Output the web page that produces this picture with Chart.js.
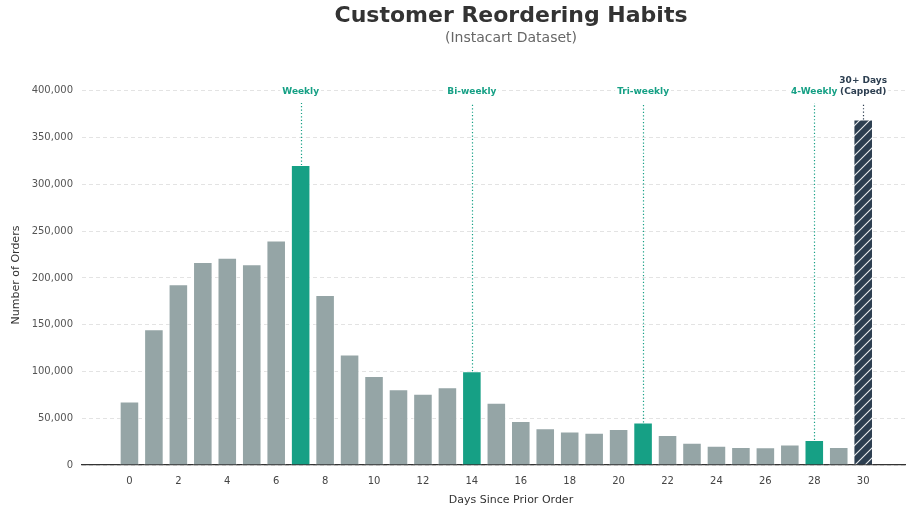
<!DOCTYPE html>
<html>
<head>
<meta charset="utf-8">
<script src="https://cdn.jsdelivr.net/npm/chart.js@4.4.1/dist/chart.umd.min.js"></script>
<style>
  html, body { margin: 0; padding: 0; background: #fff; overflow: hidden; }
  #wrap { width: 940px; height: 508px; position: relative; }
</style>
</head>
<body>
<div id="wrap"><canvas id="c" width="940" height="508"></canvas></div>
<script>
// ---- data ----
const days = [0,1,2,3,4,5,6,7,8,9,10,11,12,13,14,15,16,17,18,19,20,21,22,23,24,25,26,27,28,29,30];
const orders = [67755,145247,193206,217005,221696,214503,240013,320608,181717,118188,95186,80970,76146,83214,100230,66579,46941,39245,35881,34384,38527,45470,32012,23885,20712,19234,19016,22013,26777,19191,369323];
const milestoneDays = [7, 14, 21, 28];
const milestoneLabels = ["Weekly", "Bi-weekly", "Tri-weekly", "4-Weekly"];
const cappedDay = 30;
const cappedLabel = ["30+ Days", "(Capped)"];
const xTickValues = [0,2,4,6,8,10,12,14,16,18,20,22,24,26,28,30];
const yTickValues = [0,50000,100000,150000,200000,250000,300000,350000,400000];
const labelLevel = 400000;
const lineTopLevel = 387000;
const yMax = 406255;
const titleText = "Customer Reordering Habits";
const subtitleText = "(Instacart Dataset)";
const xTitle = "Days Since Prior Order";
const yTitle = "Number of Orders";

const GREY = "#95a5a6", TEAL = "#16a085", DARK = "#2c3e50";

function makeHatch() {
  const c = document.createElement("canvas");
  c.width = 10; c.height = 10;
  const g = c.getContext("2d");
  g.fillStyle = DARK; g.fillRect(0, 0, 10, 10);
  g.strokeStyle = "rgba(255,255,255,0.9)"; g.lineWidth = 1.1;
  g.beginPath();
  g.moveTo(0, 10); g.lineTo(10, 0);
  g.moveTo(-5, 5); g.lineTo(5, -5);
  g.moveTo(5, 15); g.lineTo(15, 5);
  g.stroke();
  return g.createPattern(c, "repeat");
}
const hatch = makeHatch();

const colors = days.map(d => d === cappedDay ? hatch : (milestoneDays.includes(d) ? TEAL : GREY));

Chart.defaults.font.family = "'DejaVu Sans', sans-serif";

const annotPlugin = {
  id: "annot",
  afterDatasetsDraw(chart) {
    const ctx = chart.ctx, xs = chart.scales.x, ys = chart.scales.y;
    ctx.save();
    const drawLine = (d, color) => {
      const x = Math.round(xs.getPixelForValue(d)) + 0.5;
      const yTop = ys.getPixelForValue(lineTopLevel);
      const yBar = ys.getPixelForValue(orders[days.indexOf(d)]);
      ctx.strokeStyle = color; ctx.lineWidth = 1.2; ctx.setLineDash([1.2, 2.2]);
      ctx.beginPath(); ctx.moveTo(x, yBar); ctx.lineTo(x, yTop); ctx.stroke();
      ctx.setLineDash([]);
    };
    const drawLabel = (text, d, level, color, dy) => {
      const x = xs.getPixelForValue(d);
      const y = ys.getPixelForValue(level) + dy;
      ctx.font = "bold 9px 'DejaVu Sans'";
      const w = ctx.measureText(text).width;
      ctx.fillStyle = "#fff";
      ctx.fillRect(x - w / 2 - 2, y - 5.5, w + 4, 11);
      ctx.fillStyle = color; ctx.textAlign = "center"; ctx.textBaseline = "middle";
      ctx.fillText(text, x, y);
    };
    milestoneDays.forEach((d, i) => { drawLine(d, TEAL); drawLabel(milestoneLabels[i], d, labelLevel, TEAL, 1); });
    drawLine(cappedDay, DARK);
    drawLabel(cappedLabel[1], cappedDay, labelLevel, DARK, 1);
    drawLabel(cappedLabel[0], cappedDay, labelLevel, DARK, -10);
    ctx.restore();
  }
};

const titlePlugin = {
  id: "titles",
  afterDraw(chart) {
    const ctx = chart.ctx, a = chart.chartArea;
    const cx = (a.left + a.right) / 2;
    ctx.save();
    ctx.textAlign = "center"; ctx.textBaseline = "middle";
    ctx.fillStyle = "#333"; ctx.font = "bold 22px 'DejaVu Sans'";
    ctx.fillText(titleText, cx, 16);
    ctx.fillStyle = "#666"; ctx.font = "14px 'DejaVu Sans'";
    ctx.fillText(subtitleText, cx, 38);
    ctx.restore();
  }
};

new Chart(document.getElementById("c"), {
  type: "bar",
  data: {
    datasets: [{
      data: days.map((d, i) => ({ x: d, y: orders[i] })),
      backgroundColor: colors,
      borderColor: "rgba(255,255,255,0.8)",
      borderWidth: 1,
      barPercentage: 0.8,
      categoryPercentage: 1.0
    }]
  },
  options: {
    responsive: false,
    animation: false,
    devicePixelRatio: 1,
    layout: { padding: { top: 85, right: 0, bottom: 0, left: 0 } },
    plugins: { legend: { display: false }, tooltip: { enabled: false }, title: { display: false } },
    scales: {
      x: {
        type: "linear",
        offset: false,
        min: -1.94, max: 33.14,
        afterBuildTicks: s => { s.ticks = xTickValues.map(v => ({ value: v })); },
        ticks: { color: "#444", font: { size: 10 }, padding: 2, autoSkip: false, maxRotation: 0, callback: v => String(v) },
        grid: { display: false },
        border: { display: true, color: "#333", width: 1.2 },
        title: { display: true, text: xTitle, color: "#333", font: { size: 11 }, padding: { top: 4, bottom: 1 } },
        afterFit: s => { s.height = 43; }
      },
      y: {
        min: 0, max: yMax,
        afterBuildTicks: s => { s.ticks = yTickValues.map(v => ({ value: v })); },
        ticks: { color: "#555", font: { size: 10 }, padding: 9, callback: v => v.toLocaleString("en-US") },
        grid: { color: "#e3e3e3", lineWidth: 1, drawTicks: false },
        border: { display: false, dash: [4, 3] },
        title: { display: true, text: yTitle, color: "#333", font: { size: 11 }, padding: { top: 10, bottom: 0 } },
        afterFit: s => { s.width = 82; }
      }
    }
  },
  plugins: [annotPlugin, titlePlugin]
});
</script>
</body>
</html>
